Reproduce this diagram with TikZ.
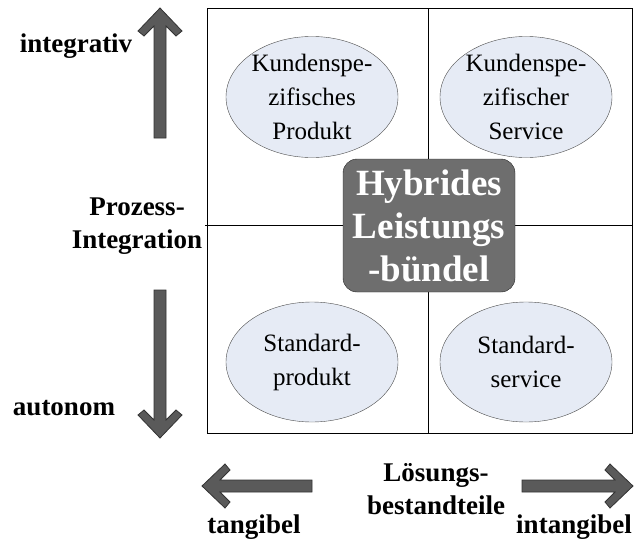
\documentclass[tikz,border=0pt]{standalone}
\usepackage{xcolor}
\usepackage{fontspec}
\setmainfont{Liberation Serif}
\usetikzlibrary{shapes.geometric}
\definecolor{ellfill}{HTML}{E6EBF5}
\definecolor{corefill}{HTML}{6E6E6E}
\definecolor{arrowgray}{HTML}{5A5A5A}
\tikzstyle{field} = [ellipse, draw=black!70, fill=ellfill, minimum width=172pt, minimum height=120pt, inner sep=0pt, align=center, font=\fontsize{25}{34}\selectfont]
\tikzstyle{core} = [rectangle, rounded corners=14pt, draw=black!85, fill=corefill, minimum width=172pt, minimum height=133pt, align=center, text=white, font=\fontsize{37}{43}\selectfont\bfseries]
\tikzstyle{axislabel} = [align=center, inner sep=0pt, font=\fontsize{27}{33}\selectfont\bfseries]
\tikzstyle{bigarrow} = [draw=black!80, fill=arrowgray, line width=0.8pt, line join=miter]

\begin{document}
\begin{tikzpicture}[x=1pt,y=-1pt]
	\useasboundingbox (0,0) rectangle (640,544);
	% matrix frame
	\draw[line width=0.8pt] (207,8) rectangle (632,433);
	\draw[line width=0.8pt] (428,8) -- (428,433);
	\draw[line width=0.8pt] (205,225) -- (632,225);

	\node (kprod) [field] at (312,97) {Kundenspe-\\zifisches\\Produkt};
	\node (kserv) [field] at (526,97) {Kundenspe-\\zifischer\\Service};
	\node (sprod) [field] at (312,362) {Standard-\\produkt};
	\node (sserv) [field] at (526,362) {Standard-\\service};
	\node (hlb) [core] at (429,225.5) {Hybrides\\Leistungs\\-bündel};

	% axis labels
	\node (integ) [axislabel] at (76,46) {integrativ};
	\node (proz) [axislabel] at (137,226) {Prozess-\\Integration};
	\node (auto) [axislabel] at (64,408) {autonom};
	\node (loes) [axislabel] at (436,489) {Lösungs-\\bestandteile};
	\node (tang) [axislabel] at (254,527) {tangibel};
	\node (intang) [axislabel] at (574,527) {intangibel};

	% block arrows
	\draw[bigarrow, shift={(160,8)}, rotate=90] (0,0) -- (-23,22) -- (-28,16) -- (-18,6) -- (-130,6) -- (-130,-6) -- (-18,-6) -- (-28,-16) -- (-23,-22) -- cycle;
	\draw[bigarrow, shift={(160,438)}, rotate=-90] (0,0) -- (-23,22) -- (-28,16) -- (-18,6) -- (-148,6) -- (-148,-6) -- (-18,-6) -- (-28,-16) -- (-23,-22) -- cycle;
	\draw[bigarrow, shift={(202,486)}, rotate=180] (0,0) -- (-23,22) -- (-28,16) -- (-18,6) -- (-110,6) -- (-110,-6) -- (-18,-6) -- (-28,-16) -- (-23,-22) -- cycle;
	\draw[bigarrow, shift={(633,486)}] (0,0) -- (-23,22) -- (-28,16) -- (-18,6) -- (-111,6) -- (-111,-6) -- (-18,-6) -- (-28,-16) -- (-23,-22) -- cycle;
\end{tikzpicture}
\end{document}
